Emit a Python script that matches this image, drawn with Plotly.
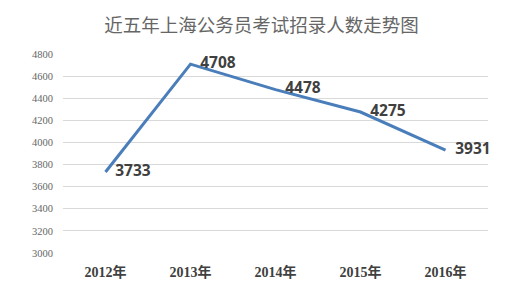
import plotly.graph_objects as go

years = ["2012年", "2013年", "2014年", "2015年", "2016年"]
values = [3733, 4708, 4478, 4275, 3931]
yticks = [3000, 3200, 3400, 3600, 3800, 4000, 4200, 4400, 4600, 4800]

fig = go.Figure()
fig.add_trace(go.Scatter(
    x=years, y=values, mode="lines+markers+text",
    line=dict(color="#4a7ebb", width=3),
    marker=dict(size=14, color="rgba(0,0,0,0)"),
    text=[str(v) for v in values], textposition="middle right",
    textfont=dict(family="Open Sans", size=15.5, color="#404040", weight="bold"),
    cliponaxis=False,
))
fig.update_layout(
    width=505, height=284,
    margin=dict(l=63, r=17, t=54, b=31),
    paper_bgcolor="white", plot_bgcolor="white",
    showlegend=False,
    title=dict(text="近五年上海公务员考试招录人数走势图", xref="container", x=0.518, xanchor="center",
               y=0.91, yanchor="middle",
               font=dict(family="Noto Sans CJK SC", size=18.5, color="#666666")),
    xaxis=dict(range=[-0.5, 4.5], showgrid=False, showline=False, zeroline=False, ticks="",
               ticklabelstandoff=9, automargin=False,
               tickfont=dict(family="Liberation Serif, Noto Sans CJK SC", size=14, color="#404040", weight="bold")),
    yaxis=dict(range=[3000, 4800], tickvals=yticks, showgrid=True, gridcolor="#d9d9d9", gridwidth=1,
               zeroline=False, showline=False, ticks="", ticklabelstandoff=9, automargin=False,
               tickfont=dict(family="Liberation Serif", size=10.5, color="#666666")),
)
fig.write_html("out.html")
